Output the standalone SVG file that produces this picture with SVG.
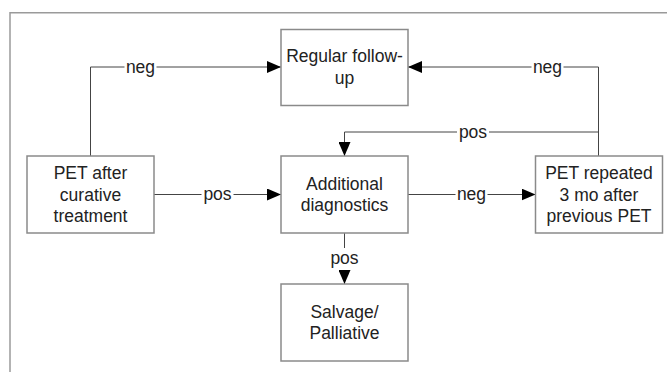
<svg xmlns="http://www.w3.org/2000/svg" width="667" height="372" viewBox="0 0 667 372">
<style>
.box{fill:#fff;stroke:#8a8a8a;stroke-width:1.5}
.t{font-family:"Liberation Sans",Arial,sans-serif;font-size:17.5px;fill:#222;text-anchor:middle}
.c{fill:none;stroke:#444;stroke-width:1}
.lb{fill:#fff}
.frame{fill:none;stroke:#9a9a9a;stroke-width:1.5}
</style>
<defs>
<marker id="ah" markerUnits="userSpaceOnUse" markerWidth="14" markerHeight="12" refX="14" refY="6" orient="auto">
<path d="M0,0 L14,6 L0,12 z" fill="#000"/>
</marker>
</defs>
<path class="frame" d="M10,372 V12.7 H667"/>
<g id="connectors">
<path class="c" d="M90.5,156 V67 H281" marker-end="url(#ah)"/>
<path class="c" d="M598.5,156 V67 H408" marker-end="url(#ah)"/>
<path class="c" d="M598.5,132 H344.5 V156" marker-end="url(#ah)"/>
<path class="c" d="M154,194.5 H281" marker-end="url(#ah)"/>
<path class="c" d="M408,194.5 H535.5" marker-end="url(#ah)"/>
<path class="c" d="M344.5,233 V284" marker-end="url(#ah)"/>
<rect class="lb" x="124.5" y="60" width="32" height="14"/>
<text class="t" x="140.5" y="72.5">neg</text>
<rect class="lb" x="531.5" y="60" width="32" height="14"/>
<text class="t" x="547.5" y="72.5">neg</text>
<rect class="lb" x="457" y="125" width="32" height="14"/>
<text class="t" x="473" y="137.5">pos</text>
<rect class="lb" x="201.5" y="187.5" width="32" height="14"/>
<text class="t" x="217.5" y="200">pos</text>
<rect class="lb" x="455.5" y="187.5" width="32" height="14"/>
<text class="t" x="471.5" y="200">neg</text>
<rect class="lb" x="328.5" y="248" width="32" height="22"/>
<text class="t" x="344.5" y="264">pos</text>
</g>
<g id="regular">
<rect class="box" x="281" y="29.5" width="127" height="76"/>
<text class="t" x="344.5" y="62">Regular follow-</text>
<text class="t" x="344.5" y="83.5">up</text>
</g>
<g id="pet_after">
<rect class="box" x="27" y="156" width="127" height="77"/>
<text class="t" x="90.5" y="179">PET after</text>
<text class="t" x="90.5" y="200.5">curative</text>
<text class="t" x="90.5" y="222">treatment</text>
</g>
<g id="additional">
<rect class="box" x="281" y="156" width="127" height="77"/>
<text class="t" x="344.5" y="189.5">Additional</text>
<text class="t" x="344.5" y="211">diagnostics</text>
</g>
<g id="pet_repeated">
<rect class="box" x="535.5" y="156" width="127" height="77"/>
<text class="t" x="599" y="179">PET repeated</text>
<text class="t" x="599" y="200.5">3 mo after</text>
<text class="t" x="599" y="222">previous PET</text>
</g>
<g id="salvage">
<rect class="box" x="281" y="284" width="127" height="77"/>
<text class="t" x="344.5" y="317.5">Salvage/</text>
<text class="t" x="344.5" y="339">Palliative</text>
</g>
</svg>
